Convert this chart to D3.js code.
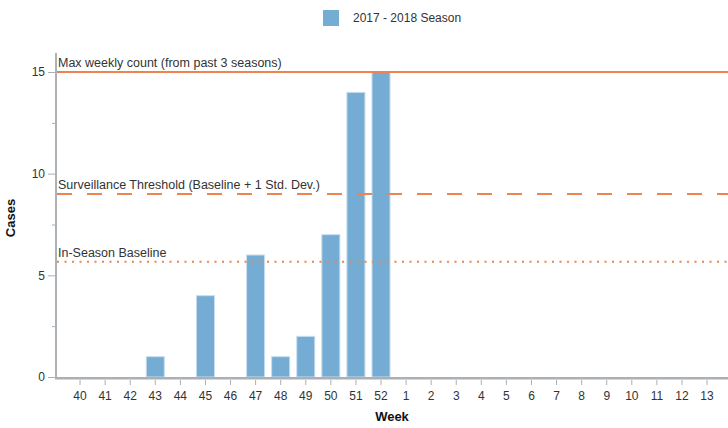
<!DOCTYPE html>
<html>
<head>
<meta charset="utf-8">
<script src="https://cdn.jsdelivr.net/npm/d3@7"></script>
<style>
  html, body { margin: 0; padding: 0; background: #fff; }
  svg { display: block; font-family: "Liberation Sans", Arial, sans-serif; }
</style>
</head>
<body>
<svg id="chart" width="728" height="428"></svg>
<script>
// ---- data ----
const weeks = [40, 41, 42, 43, 44, 45, 46, 47, 48, 49, 50, 51, 52, 1, 2, 3, 4, 5, 6, 7, 8, 9, 10, 11, 12, 13];
const cases = [0, 0, 0, 1, 0, 4, 0, 6, 1, 2, 7, 14, 15, null, null, null, null, null, null, null, null, null, null, null, null, null];
const seriesName = "2017 - 2018 Season";
const yTicks = [0, 5, 10, 15];
const yMinorTicks = [2.5, 7.5, 12.5];
const refNames = ["Max weekly count (from past 3 seasons)", "Surveillance Threshold (Baseline + 1 Std. Dev.)", "In-Season Baseline"];
const refValues = [15, 9, 5.67];
const refDash = ["none", "15,15", "2,5.5"];

// ---- layout ----
const W = 728, H = 428;
const left = 56, right = 728, bottom = 377;
const svg = d3.select("#chart");

const x = d3.scaleBand()
  .domain(weeks.map(String))
  .range([67.5, 67.5 + 25.08 * weeks.length])
  .paddingInner(0.28)
  .paddingOuter(0.14);

const y = d3.scaleLinear().domain([0, 16]).range([bottom, bottom - 16 * (305 / 15)]);

const barColor = "#75acd3";
const refColor = "#f0824f";
const axisColor = "#aab0b4";

// bars
const data = weeks.map((w, i) => ({ w: String(w), v: cases[i] }));
svg.append("g").selectAll("rect")
  .data(data.filter(d => d.v != null && d.v > 0))
  .join("rect")
  .attr("x", d => x(d.w))
  .attr("width", x.bandwidth())
  .attr("y", d => y(d.v))
  .attr("height", d => y(0) - y(d.v))
  .attr("fill", barColor)
  .attr("stroke", "#c9def0")
  .attr("stroke-width", 1);

// reference lines
const refs = refNames.map((n, i) => ({ n, v: refValues[i], dash: refDash[i] }));
const rg = svg.append("g");
rg.selectAll("line")
  .data(refs)
  .join("line")
  .attr("x1", left + 1)
  .attr("x2", right)
  .attr("y1", d => y(d.v))
  .attr("y2", d => y(d.v))
  .attr("stroke", refColor)
  .attr("stroke-width", 2)
  .attr("stroke-dasharray", d => d.dash);
rg.selectAll("text")
  .data(refs)
  .join("text")
  .attr("x", 58)
  .attr("y", d => y(d.v) - 5)
  .attr("font-size", 12.5)
  .attr("fill", "#333")
  .text(d => d.n);

// y axis
const yAxis = svg.append("g")
  .attr("transform", `translate(${left - 1},0)`)
  .call(d3.axisLeft(y).tickValues(yTicks).tickSize(7).tickSizeOuter(0).tickPadding(3));
yAxis.select(".domain").remove();
yAxis.selectAll(".tick line").attr("stroke", axisColor);
yAxis.selectAll(".tick text").attr("font-size", 12).attr("fill", "#333").attr("font-family", "Liberation Sans, Arial, sans-serif");

const yMinor = svg.append("g")
  .attr("transform", `translate(${left - 1},0)`)
  .call(d3.axisLeft(y).tickValues(yMinorTicks).tickSize(3).tickFormat(""));
yMinor.select(".domain").remove();
yMinor.selectAll(".tick line").attr("stroke", axisColor);

svg.append("line")
  .attr("x1", left).attr("x2", left)
  .attr("y1", y(15.93)).attr("y2", bottom + 3)
  .attr("stroke", axisColor).attr("stroke-width", 2);

// x axis
const xAxis = svg.append("g")
  .attr("transform", `translate(0,${bottom + 3})`)
  .call(d3.axisBottom(x).tickSize(5).tickSizeOuter(0).tickPadding(6));
xAxis.select(".domain").remove();
xAxis.selectAll(".tick line").attr("stroke", axisColor);
xAxis.selectAll(".tick text").attr("font-size", 12).attr("fill", "#333").attr("font-family", "Liberation Sans, Arial, sans-serif");

svg.append("line")
  .attr("x1", left - 1).attr("x2", right)
  .attr("y1", bottom + 1).attr("y2", bottom + 1)
  .attr("stroke", axisColor).attr("stroke-width", 2);
svg.append("line")
  .attr("x1", left - 1).attr("x2", right)
  .attr("y1", bottom + 2.5).attr("y2", bottom + 2.5)
  .attr("stroke", "#d3d7da").attr("stroke-width", 1);

// axis titles
svg.append("text")
  .attr("x", 392).attr("y", 421)
  .attr("text-anchor", "middle")
  .attr("font-size", 13).attr("font-weight", "bold").attr("fill", "#111")
  .text("Week");
svg.append("text")
  .attr("transform", "translate(15,218) rotate(-90)")
  .attr("text-anchor", "middle")
  .attr("font-size", 13).attr("font-weight", "bold").attr("fill", "#111")
  .text("Cases");

// legend
const lg = svg.append("g");
lg.append("rect")
  .attr("x", 323).attr("y", 10).attr("width", 16).attr("height", 16)
  .attr("fill", barColor);
lg.append("text")
  .attr("x", 353).attr("y", 22)
  .attr("font-size", 12).attr("fill", "#333")
  .text(seriesName);
</script>
</body>
</html>
